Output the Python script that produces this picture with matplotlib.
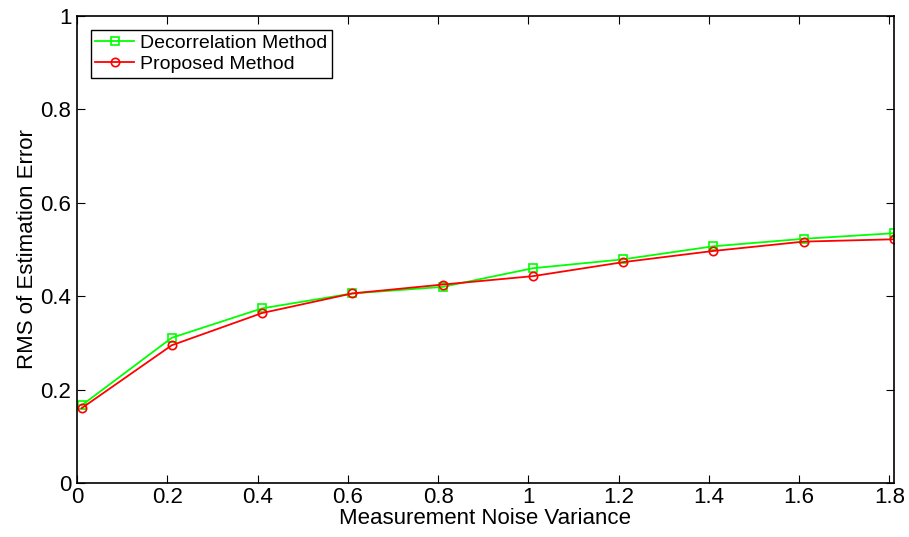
import numpy as np
import matplotlib
matplotlib.use("Agg")
import matplotlib.pyplot as plt

# dados
variancia = [0.01, 0.21, 0.41, 0.61, 0.81, 1.01, 1.21, 1.41, 1.61, 1.81]
decorrelacao = [0.166, 0.311, 0.374, 0.406, 0.420, 0.460, 0.479, 0.507, 0.523, 0.535]
proposto = [0.160, 0.295, 0.364, 0.406, 0.425, 0.443, 0.473, 0.497, 0.517, 0.522]

plt.rcParams['font.family'] = ['Liberation Sans', 'DejaVu Sans']
plt.rcParams['font.size'] = 16

fig = plt.figure(figsize=(9.09, 5.37), dpi=100)
ax = fig.add_axes([0.0847, 0.1006, 0.8988, 0.8694])

ax.plot(variancia, decorrelacao, color='#00ff00', marker='s', markersize=6,
        markerfacecolor='none', markeredgewidth=1.2, linewidth=1.3,
        label='Decorrelation Method')
ax.plot(variancia, proposto, color='#ff0000', marker='o', markersize=6,
        markerfacecolor='none', markeredgewidth=1.2, linewidth=1.3,
        label='Proposed Method')

ax.set_xlim(0, 1.81)
ax.set_ylim(0, 1)
ax.set_xticks(np.arange(0, 1.81, 0.2))
ax.set_xticklabels(['0', '0.2', '0.4', '0.6', '0.8', '1', '1.2', '1.4', '1.6', '1.8'])
ax.set_yticks([0, 0.2, 0.4, 0.6, 0.8, 1])
ax.set_yticklabels(['0', '0.2', '0.4', '0.6', '0.8', '1'])
ax.tick_params(direction='in', length=6, top=True, right=True)
ax.tick_params(axis='x', pad=3)
ax.tick_params(axis='y', pad=4)
for s in ax.spines.values():
    s.set_linewidth(1.2)

ax.set_xlabel('Measurement Noise Variance', labelpad=0)
ax.set_ylabel('RMS of Estimation Error', labelpad=2)

leg = ax.legend(loc='upper left', fancybox=False, edgecolor='black',
                framealpha=1, borderaxespad=0.7, handlelength=2.0,
                handletextpad=0.3, borderpad=0.25, labelspacing=0.15,
                fontsize=14)
leg.get_frame().set_linewidth(1.0)

plt.savefig('out.png', dpi=100)
